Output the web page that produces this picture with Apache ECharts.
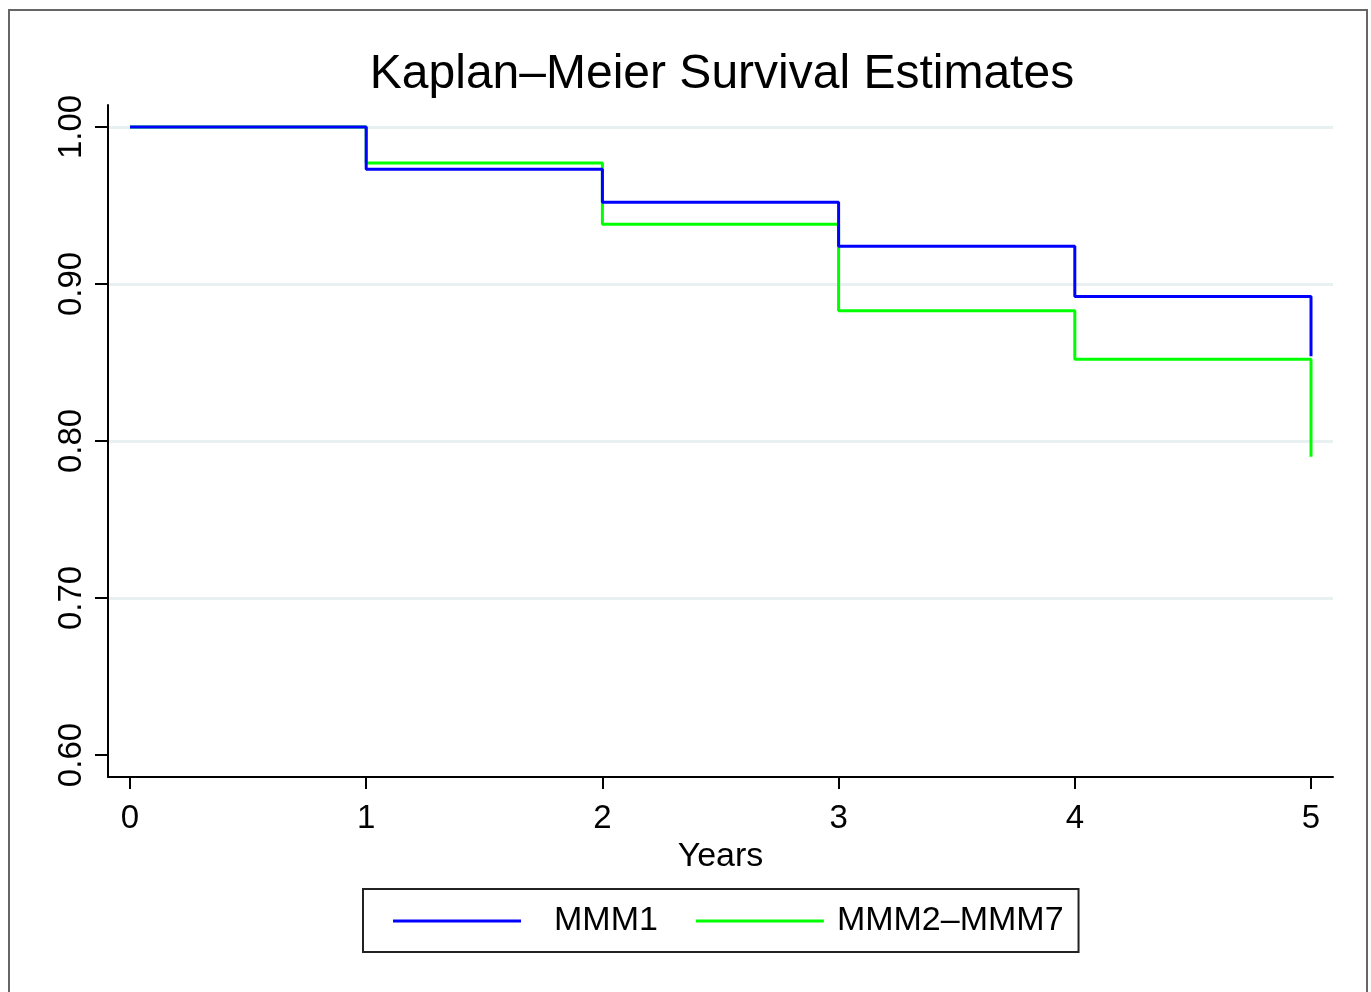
<!DOCTYPE html>
<html>
<head>
<meta charset="utf-8">
<style>
  body { margin: 0; background: #fff; }
  #chart { width: 1371px; height: 992px; }
  .frame { position: absolute; left: 8px; top: 9px; width: 1356px; height: 1000px; border: 2px solid #666; pointer-events: none; }
</style>
<script src="https://cdn.jsdelivr.net/npm/echarts@6/dist/echarts.min.js"></script>
</head>
<body>
<div id="chart"></div>
<div class="frame"></div>
<script>
  const years = [0, 1, 2, 3, 4, 5]
  const mmm1 = [1.0, 0.973, 0.952, 0.924, 0.892, 0.854]
  const mmm2to7 = [1.0, 0.977, 0.938, 0.883, 0.852, 0.790]
  const yTicks = [0.6, 0.7, 0.8, 0.9, 1.0]
  const gridTicks = [0.7, 0.8, 0.9, 1.0]
  const seriesNames = ['MMM1', 'MMM2\u2013MMM7']

  const font = '"Liberation Sans", Arial, sans-serif'
  const pair = (xs, ys) => xs.map((x, i) => [x, ys[i]])

  const chart = echarts.init(document.getElementById('chart'))
  chart.setOption({
    animation: false,
    title: {
      text: 'Kaplan\u2013Meier Survival Estimates',
      left: 717,
      textAlign: 'center',
      top: 46,
      textStyle: { fontFamily: font, fontSize: 48, fontWeight: 'normal', color: '#000' }
    },
    legend: {
      left: 363,
      top: 889,
      padding: [15, 15, 14, 30],
      borderColor: '#222',
      borderWidth: 2,
      itemWidth: 128,
      itemHeight: 3,
      itemGap: 38,
      textStyle: { fontFamily: font, fontSize: 34, color: '#000' },
      data: [
        { name: seriesNames[0], icon: 'rect', textStyle: { padding: [0, 0, 0, 28] } },
        { name: seriesNames[1], icon: 'rect', textStyle: { padding: [0, 0, 0, 8] } }
      ]
    },
    grid: { left: 108, right: 38, top: 105, bottom: 215 },
    xAxis: {
      type: 'value',
      min: -0.0931,
      max: 5.0931,
      name: 'Years',
      nameLocation: 'middle',
      nameGap: 56,
      nameTextStyle: { fontFamily: font, fontSize: 34, color: '#000' },
      axisLine: { onZero: false, lineStyle: { color: '#000', width: 2 } },
      axisTick: { customValues: years, length: 12, lineStyle: { color: '#000', width: 2 } },
      axisLabel: { customValues: years, fontFamily: font, fontSize: 33, color: '#000', margin: 25 },
      splitLine: { show: false }
    },
    yAxis: [
      {
        type: 'value',
        min: 0.586,
        max: 1.014,
        axisLine: { show: true, onZero: false, lineStyle: { color: '#000', width: 2 } },
        axisTick: { show: true, customValues: yTicks, length: 13, lineStyle: { color: '#000', width: 2 } },
        axisLabel: {
          customValues: yTicks,
          rotate: 90,
          fontFamily: font,
          fontSize: 33,
          color: '#000',
          margin: 20,
          formatter: v => v.toFixed(2)
        },
        splitLine: { show: false }
      },
      {
        type: 'value',
        min: 0.586,
        max: 1.014,
        position: 'left',
        axisLine: { show: false, onZero: false },
        axisTick: { show: false, customValues: gridTicks },
        axisLabel: { show: false, customValues: gridTicks },
        splitLine: { show: true, lineStyle: { color: '#e9f0f2', width: 3 } }
      }
    ],
    series: [
      {
        name: seriesNames[1],
        type: 'line',
        step: 'end',
        symbol: 'none',
        z: 2,
        color: '#00ff00',
        lineStyle: { color: '#00ff00', width: 3 },
        data: pair(years, mmm2to7)
      },
      {
        name: seriesNames[0],
        type: 'line',
        step: 'end',
        symbol: 'none',
        z: 3,
        color: '#0000ff',
        lineStyle: { color: '#0000ff', width: 3 },
        data: pair(years, mmm1)
      }
    ]
  })
</script>
</body>
</html>
